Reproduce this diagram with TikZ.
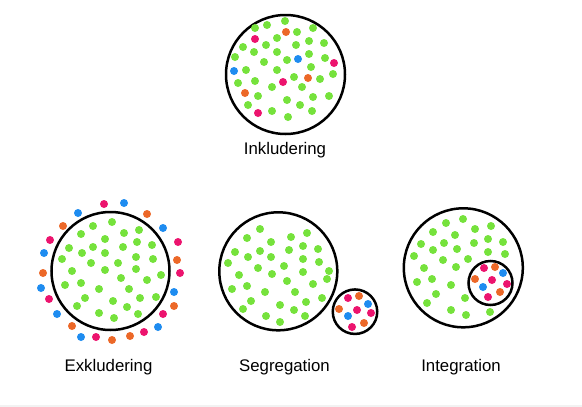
\documentclass[tikz,border=0pt]{standalone}
\usepackage{fontspec}
\setmainfont{Liberation Sans}
\usepackage{tikz}
\usetikzlibrary{positioning}

\definecolor{dotgreen}{RGB}{118,226,60}
\definecolor{dotpink}{RGB}{236,20,110}
\definecolor{dotorange}{RGB}{236,104,40}
\definecolor{dotblue}{RGB}{30,140,240}

\tikzstyle{ring} = [
    circle, 
    draw=black, 
    line width=2.5pt, 
    inner sep=0pt
]
\tikzstyle{caption} = [
    anchor=base, 
    inner sep=0pt, 
    font=\fontsize{16.8}{20}\selectfont
]
\tikzstyle{green_dot} = [fill=dotgreen]
\tikzstyle{pink_dot} = [fill=dotpink]
\tikzstyle{orange_dot} = [fill=dotorange]
\tikzstyle{blue_dot} = [fill=dotblue]

\begin{document}
\begin{tikzpicture}[
    x=1pt, 
    y=-1pt
]
\useasboundingbox (0,0) rectangle (582,407);
\fill [gray!10] (0,405) rectangle (582,407);

% Inkludering
\node [ring, minimum size=119pt] (incl) at (285.5,74.5) {};
\foreach \x/\y in {255/28, 267/25, 285/21, 297/32, 313/28, 277/38, 309/41, 324/43, 
    243/47, 266/45, 296/45, 254/52, 277/52, 309/54, 235/57, 264/62, 287/60, 325/58, 
    246/70, 277/70, 311/67, 333/74, 238/83, 255/81, 294/77, 320/79, 272/87, 302/87, 
    258/96, 287/100, 313/97, 329/96, 248/105, 300/105, 272/111, 288/117, 312/111}
    \fill [green_dot] (\x,\y) circle (4pt);
\foreach \x/\y in {255/39, 334/63, 283/82, 258/113}
    \fill [pink_dot] (\x,\y) circle (4pt);
\foreach \x/\y in {286/32, 308/78, 245/93}
    \fill [orange_dot] (\x,\y) circle (4pt);
\foreach \x/\y in {298/59, 234/71}
    \fill [blue_dot] (\x,\y) circle (4pt);
\node [caption] (incl_label) at (285,154.5) {Inkludering};

% Exkludering
\node [ring, minimum size=118pt] (excl) at (110.5,271) {};
\foreach \x/\y in {93/226, 112/222, 81/234, 124/233, 139/230, 105/239, 69/248, 82/253, 
    93/247, 105/253, 123/247, 137/242, 152/245, 62/259, 91/263, 118/263, 136/257, 153/259, 
    72/271, 105/270, 136/269, 161/275, 121/278, 65/285, 81/283, 99/289, 129/289, 147/280, 
    85/298, 113/301, 140/298, 156/297, 77/306, 127/307, 99/313, 114/318, 138/314}
    \fill [green_dot] (\x,\y) circle (4pt);
\foreach \x/\y in {104/204, 50/240, 178/242, 180/273, 49/299, 163/314, 96/337, 144/332}
    \fill [pink_dot] (\x,\y) circle (4pt);
\foreach \x/\y in {147/214, 63/226, 177/260, 43/273, 174/306, 72/326, 112/340, 130/336}
    \fill [orange_dot] (\x,\y) circle (4pt);
\foreach \x/\y in {124/203, 78/213, 163/228, 44/253, 41/288, 174/292, 57/314, 158/327, 81/337}
    \fill [blue_dot] (\x,\y) circle (4pt);
\node [caption] (excl_label) at (108.5,371) {Exkludering};

% Segregation
\node [ring, minimum size=118pt] (segr) at (278.3,271.3) {};
\node [ring, minimum size=44.5pt] (segr_small) at (355,311.7) {};
\foreach \x/\y in {260/229, 247/238, 271/242, 291/237, 307/233, 235/252, 260/251, 271/257, 
    289/250, 303/246, 318/249, 228/263, 248/257, 258/268, 284/266, 303/259, 319/262, 239/275, 
    272/274, 303/272, 329/271, 327/279, 232/289, 247/286, 287/281, 313/284, 265/292, 295/292, 
    322/298, 251/301, 243/309, 280/305, 306/302, 266/316, 294/310, 305/316, 280/322}
    \fill [green_dot] (\x,\y) circle (4pt);
\foreach \x/\y in {348/298, 357/310, 371/313, 352/327}
    \fill [pink_dot] (\x,\y) circle (4pt);
\foreach \x/\y in {359/296, 339/309, 364/323}
    \fill [orange_dot] (\x,\y) circle (4pt);
\foreach \x/\y in {368/304, 348/316}
    \fill [blue_dot] (\x,\y) circle (4pt);
\node [caption] (segr_label) at (284.5,371) {Segregation};

% Integration
\node [ring, minimum size=119pt] (integ) at (463.3,267.8) {};
\node [ring, minimum size=44pt] (integ_small) at (490.5,283) {};
\foreach \x/\y in {463/219, 446/223, 433/232, 455/235, 475/229, 491/226, 421/244, 444/243, 
    474/243, 488/239, 503/242, 433/250, 457/249, 488/252, 505/254, 414/256, 443/260, 468/259, 
    424/268, 456/267, 432/279, 417/282, 451/285, 436/294, 465/298, 427/303, 451/310, 466/315, 
    490/312}
    \fill [green_dot] (\x,\y) circle (4pt);
\foreach \x/\y in {484/268, 492/280, 507/284, 488/297}
    \fill [pink_dot] (\x,\y) circle (4pt);
\foreach \x/\y in {495/267, 475/279, 500/292}
    \fill [orange_dot] (\x,\y) circle (4pt);
\foreach \x/\y in {503/273, 483/287}
    \fill [blue_dot] (\x,\y) circle (4pt);
\node [caption] (integ_label) at (461,371) {Integration};
\end{tikzpicture}
\end{document}
